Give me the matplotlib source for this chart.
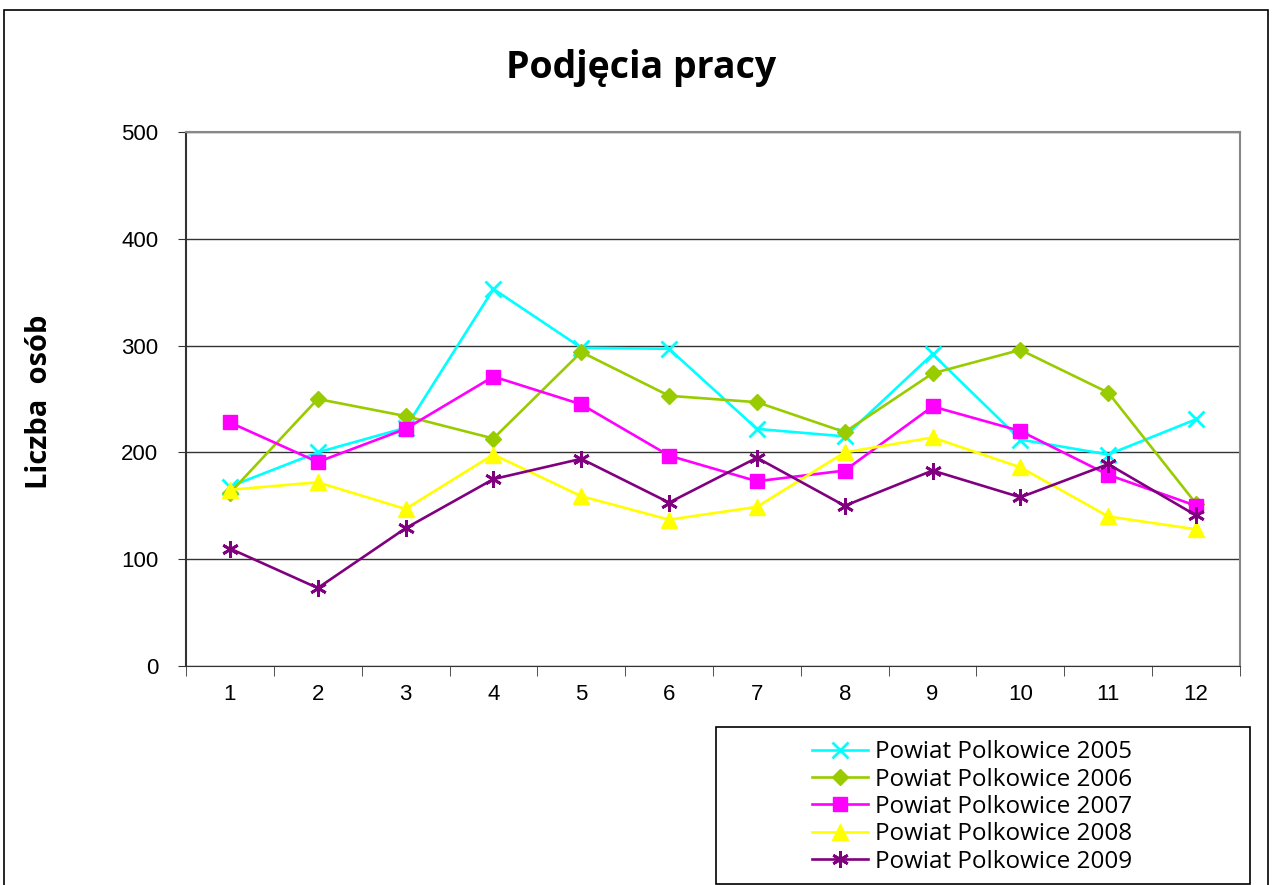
import matplotlib
matplotlib.use("Agg")
import matplotlib.pyplot as plt
from matplotlib.patches import Rectangle

months = ["1", "2", "3", "4", "5", "6", "7", "8", "9", "10", "11", "12"]

# values
pow_2005 = [168, 200, 223, 353, 298, 297, 222, 215, 292, 212, 198, 231]
pow_2006 = [162, 250, 234, 213, 294, 253, 247, 219, 274, 296, 256, 152]
pow_2007 = [228, 191, 222, 271, 245, 197, 173, 183, 243, 220, 179, 150]
pow_2008 = [165, 172, 147, 198, 159, 137, 149, 200, 214, 186, 140, 128]
pow_2009 = [110, 73, 129, 175, 194, 153, 195, 150, 183, 158, 189, 141]

labels = ["Powiat Polkowice 2005", "Powiat Polkowice 2006", "Powiat Polkowice 2007",
          "Powiat Polkowice 2008", "Powiat Polkowice 2009"]
series = [pow_2005, pow_2006, pow_2007, pow_2008, pow_2009]
colors = ["#00FFFF", "#99CC00", "#FF00FF", "#FFFF00", "#800080"]
markers = ["x", "D", "s", "^", (6, 2, 0)]
msizes = [11, 8, 10, 11, 12]

fig = plt.figure(figsize=(12.73, 8.85), dpi=100)

# outer chart border
fig.patches.append(Rectangle((4 / 1273, -0.01), 1264 / 1273, 1 - 10 / 885 + 0.01,
                             transform=fig.transFigure, fill=False,
                             edgecolor="black", linewidth=1.2))

ax = fig.add_axes([186 / 1273, 1 - 666 / 885, 1054 / 1273, 534 / 885])
x = list(range(len(months)))

for vals, lab, c, m, ms in zip(series, labels, colors, markers, msizes):
    ax.plot(x, vals, color=c, marker=m, markersize=ms, linewidth=1.9,
            markeredgewidth=2 if m in ("x", (6, 2, 0)) else 1,
            markerfacecolor=c, markeredgecolor=c, label=lab)

ax.set_xlim(-0.5, 11.5)
ax.set_ylim(0, 500)
ax.set_yticks(range(0, 501, 100))
ax.set_xticks(x)
ax.set_xticklabels(months)
ax.set_xticks([i - 0.5 for i in range(13)], minor=True)
ax.tick_params(axis="x", which="major", length=0, pad=13, labelsize=16)
ax.tick_params(axis="x", which="minor", length=7, direction="out", color="#333333")
ax.tick_params(axis="y", length=6, direction="out", labelsize=16, pad=14,
               color="#333333")
for lbl in ax.get_xticklabels() + ax.get_yticklabels():
    lbl.set_fontfamily("Liberation Sans")

ax.grid(axis="y", color="#333333", linewidth=1)
ax.set_axisbelow(True)
for s in ["top", "right"]:
    ax.spines[s].set_color("#888888")
    ax.spines[s].set_linewidth(1.5)
ax.spines["left"].set_color("#333333")
ax.spines["left"].set_linewidth(1.5)
ax.spines["bottom"].set_color("#333333")

fig.text(641 / 1273, 1 - 68 / 885, "Podjęcia pracy", ha="center", va="center",
         fontsize=27, fontweight="bold", family="Open Sans")
fig.text(40 / 1273, 1 - 402 / 885, "Liczba  osób", ha="center", va="center",
         rotation=90, fontsize=21, fontweight="bold", family="Open Sans")

# legend box
fig.patches.append(Rectangle((716 / 1273, 1 - 884 / 885), 534 / 1273, 157 / 885,
                             transform=fig.transFigure, fill=False,
                             edgecolor="black", linewidth=1.2))
fig.legend(loc="upper left", bbox_to_anchor=(800 / 1273, 1 - 728 / 885),
           frameon=False, handlelength=2.3, handletextpad=0.3,
           labelspacing=0.14, borderpad=0, prop={"family": "Open Sans", "size": 17.5})

fig.savefig("out.png", dpi=100)
